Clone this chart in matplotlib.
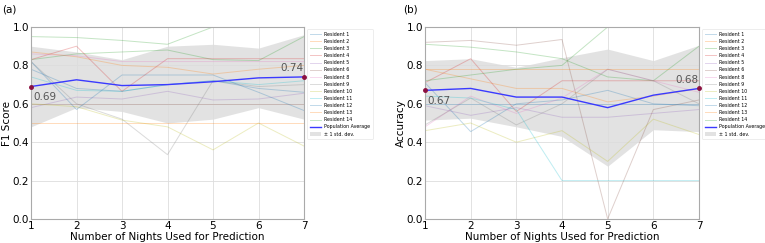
import numpy as np
import matplotlib
matplotlib.use('Agg')
import matplotlib.pyplot as plt

nights = [1, 2, 3, 4, 5, 6, 7]
residents = ['Resident 1', 'Resident 2', 'Resident 3', 'Resident 4', 'Resident 5',
             'Resident 6', 'Resident 8', 'Resident 9', 'Resident 10', 'Resident 11',
             'Resident 12', 'Resident 13', 'Resident 14']

# (a) F1 score per resident
f1_res = [
    [0.78, 0.68, 0.665, 0.70, 0.72, 0.68, 0.66],   # 1
    [0.87, 0.845, 0.80, 0.79, 0.755, 0.78, 0.80],  # 2
    [0.83, 0.86, 0.87, 0.88, 0.83, 0.825, 0.95],   # 3
    [0.83, 0.90, 0.665, 0.835, 0.835, 0.835, 0.835],  # 4
    [0.58, 0.635, 0.625, 0.665, 0.62, 0.625, 0.655],  # 5
    [0.60, 0.60, 0.60, 0.60, 0.60, 0.60, 0.60],    # 6
    [0.86, 0.85, 0.82, 0.82, 0.82, 0.82, 0.82],    # 8
    [0.82, 0.60, 0.52, 0.335, 0.72, 0.69, 0.70],   # 9
    [0.60, 0.585, 0.515, 0.48, 0.36, 0.50, 0.38],  # 10
    [0.74, 0.67, 0.665, 0.70, 0.72, 0.70, 0.72],   # 11
    [0.82, 0.57, 0.75, 0.75, 0.75, 0.66, 0.565],   # 12
    [0.50, 0.50, 0.50, 0.50, 0.50, 0.50, 0.50],    # 13
    [0.95, 0.945, 0.93, 0.91, 1.0, 1.0, 1.0],      # 14
]
f1_avg = [0.69, 0.725, 0.695, 0.70, 0.715, 0.735, 0.74]
f1_std = [0.21, 0.145, 0.135, 0.20, 0.195, 0.155, 0.22]

# (b) accuracy per resident
acc_res = [
    [0.71, 0.455, 0.60, 0.62, 0.67, 0.60, 0.59],   # 1
    [0.78, 0.73, 0.68, 0.68, 0.61, 0.64, 0.68],    # 2
    [0.91, 0.895, 0.87, 0.835, 0.74, 0.72, 0.90],  # 3
    [0.71, 0.835, 0.56, 0.72, 0.72, 0.72, 0.72],   # 4
    [0.59, 0.54, 0.58, 0.53, 0.53, 0.55, 0.57],    # 5
    [0.92, 0.93, 0.905, 0.935, 0.0, 0.57, 0.62],   # 6
    [0.48, 0.64, 0.55, 0.63, 0.78, 0.72, 0.66],    # 8
    [0.49, 0.63, 0.49, 0.60, 0.78, 0.72, 0.60],    # 9
    [0.46, 0.50, 0.40, 0.46, 0.30, 0.52, 0.44],    # 10
    [0.64, 0.63, 0.57, 0.20, 0.20, 0.20, 0.20],    # 11
    [0.60, 0.60, 0.60, 0.60, 0.60, 0.60, 0.60],    # 12
    [0.78, 0.78, 0.78, 0.78, 0.78, 0.78, 0.78],    # 13
    [0.72, 0.75, 0.78, 0.80, 1.0, 1.0, 1.0],       # 14
]
acc_avg = [0.67, 0.68, 0.635, 0.635, 0.58, 0.645, 0.68]
acc_std = [0.155, 0.155, 0.155, 0.205, 0.305, 0.18, 0.225]

colors = plt.rcParams['axes.prop_cycle'].by_key()['color']

fig = plt.figure(figsize=(7.65, 2.43), dpi=100)

def panel(rect, res, avg, std, ylabel, tag, tagx):
    ax = fig.add_axes(rect)
    for i, vals in enumerate(res):
        ax.plot(nights, vals, color=colors[i % 10], alpha=0.28, lw=0.7, label=residents[i])
    avg = np.array(avg)
    std = np.array(std)
    ax.plot(nights, avg, color='#3a3aff', lw=1.0, label='Population Average')
    ax.fill_between(nights, avg - std, avg + std, color='#bbbbbb', alpha=0.42,
                    lw=0, label='± 1 std. dev.')
    ax.plot([nights[0], nights[-1]], [avg[0], avg[-1]], 'o', color='#8b1040',
            ms=2.5, zorder=5, clip_on=False)
    ax.text(nights[0] + 0.05, avg[0] - 0.03, '%.2f' % avg[0], fontsize=7.5,
            color='#555555', ha='left', va='top')
    ax.text(nights[-1] - 0.02, avg[-1] + 0.02, '%.2f' % avg[-1], fontsize=7.5,
            color='#555555', ha='right', va='bottom')
    ax.set_xlim(1, 7)
    ax.set_ylim(0, 1)
    ax.set_xticks(nights)
    ax.set_yticks(np.arange(0, 1.01, 0.2))
    ax.grid(color='#dddddd', lw=0.6)
    ax.tick_params(length=0, labelsize=7.5, pad=1.5)
    for s in ax.spines.values():
        s.set_color('#aaaaaa')
        s.set_linewidth(0.8)
    ax.set_xlabel('Number of Nights Used for Prediction', fontsize=7.5, labelpad=1)
    ax.set_ylabel(ylabel, fontsize=7.5, labelpad=0.5)
    leg = ax.legend(loc='upper left', bbox_to_anchor=(1.01, 0.99), fontsize=3.4,
                    frameon=True, borderaxespad=0, handlelength=2.4,
                    handletextpad=0.6, labelspacing=0.45, borderpad=0.6)
    leg.get_frame().set_edgecolor('#e0e0e0')
    leg.get_frame().set_linewidth(0.5)
    fig.text(tagx, 1 - 9 / 243, tag, fontsize=7.5, va='center')
    return ax

panel([31 / 765, 24 / 243, 273 / 765, 192 / 243], f1_res, f1_avg, f1_std, 'F1 Score', '(a)', 2 / 765)
panel([425 / 765, 24 / 243, 274 / 765, 192 / 243], acc_res, acc_avg, acc_std, 'Accuracy', '(b)', 403 / 765)

fig.savefig('out.png', dpi=100)
